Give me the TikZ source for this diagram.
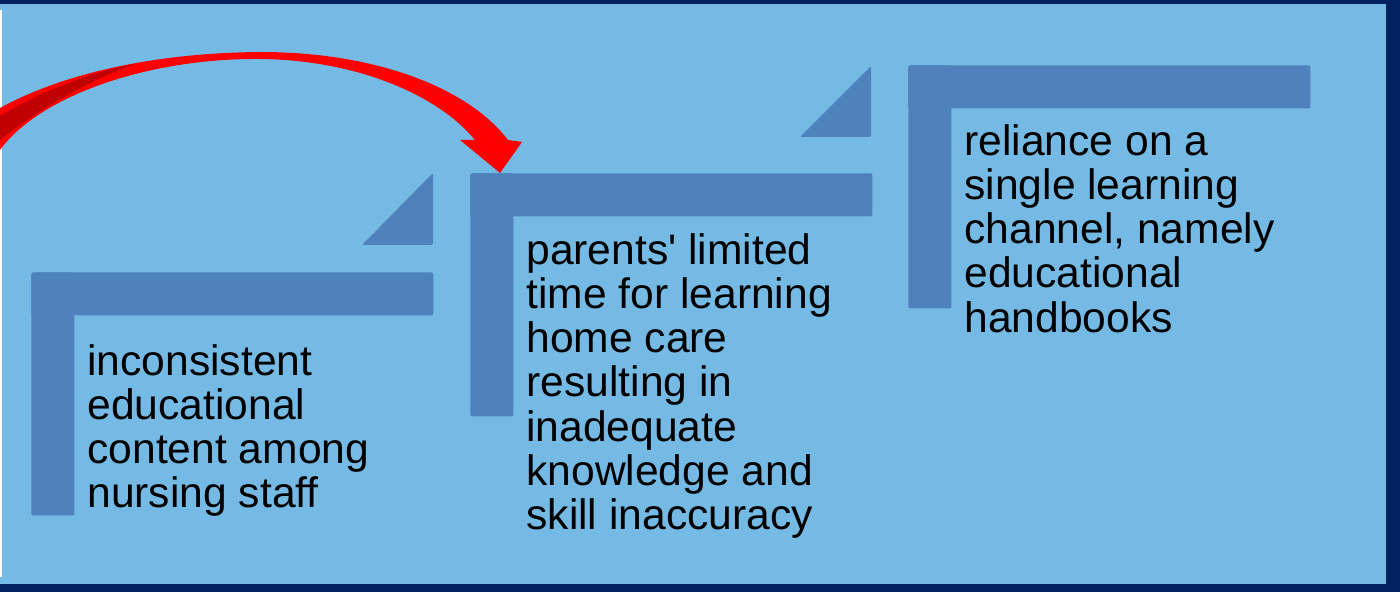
\documentclass[tikz,border=0pt]{standalone}
\usepackage{fontspec}
\setmainfont{Liberation Sans}
\usetikzlibrary{positioning}

\definecolor{framenavy}{HTML}{002060}
\definecolor{panelblue}{HTML}{74BAE4}
\definecolor{stepblue}{HTML}{4F81BD}
\definecolor{arrowred}{HTML}{FF0000}
\definecolor{arrowdark}{HTML}{C00000}

\tikzset{
  hbar/.style={fill=stepblue, inner sep=0pt, rounded corners=1pt, anchor=north west,
    minimum width=201pt, minimum height=21.5pt},
  vbar/.style={fill=stepblue, inner sep=0pt, rounded corners=1pt, anchor=north west,
    minimum width=21.5pt, minimum height=121.5pt},
  steptext/.style={inner sep=0pt, anchor=north west, align=left,
    font=\fontsize{21.3}{22.1}\selectfont}
}

\begin{document}
\begin{tikzpicture}[x=0.5pt, y=-0.5pt]
        \useasboundingbox (0,0) rectangle (1400,592);
        % frame and panel
        \fill[framenavy] (0,0) rectangle (1400,592);
        \fill[panelblue] (0,4) rectangle (1386,584);
        \draw[white, line width=1pt] (1,10) -- (1,577);

        % step 1
        \node[hbar] (top1) at (31,272) {};
        \node[vbar] (side1) at (31,272) {};
        \fill[stepblue, rounded corners=1pt] (362,245) -- (433,173) -- (433,245) -- cycle;
        \node[steptext] (text1) at (87,344) {inconsistent\\educational\\content among\\nursing staff};

        % step 2
        \node[hbar] (top2) at (470,173) {};
        \node[vbar] (side2) at (470,173) {};
        \fill[stepblue, rounded corners=1pt] (800,137) -- (871,66) -- (871,137) -- cycle;
        \node[steptext] (text2) at (526,233) {parents\textquotesingle{} limited\\time for learning\\home care\\resulting in\\inadequate\\knowledge and\\skill inaccuracy};

        % step 3
        \node[hbar] (top3) at (908,65) {};
        \node[vbar] (side3) at (908,65) {};
        \node[steptext] (text3) at (964,124) {reliance on a\\single learning\\channel, namely\\educational\\handbooks};

        % curved red arrow coming in from the left
        \coordinate (tip) at ([xshift=15pt]top2.north west);
        \fill[arrowred] (0,108) .. controls (60,75) and (150,53) .. (260,52)
            .. controls (380,52) and (470,90) .. (508,140)
            -- (522,142) -- (tip) -- (460,140) -- (475,140)
            .. controls (440,97) and (360,60) .. (260,59)
            .. controls (150,58) and (40,95) .. (0,150) -- cycle;
        \fill[arrowdark] (0,116) .. controls (40,92) and (90,72) .. (135,64)
            .. controls (90,80) and (40,108) .. (0,140) -- cycle;
    \end{tikzpicture}
\end{document}
